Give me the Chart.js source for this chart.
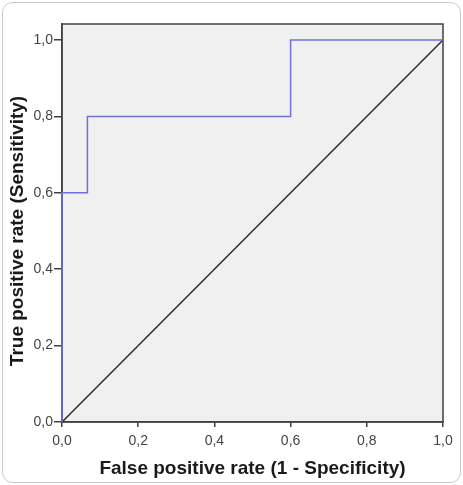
<!DOCTYPE html>
<html>
<head>
<meta charset="utf-8">
<script src="https://cdn.jsdelivr.net/npm/chart.js@4/dist/chart.umd.min.js"></script>
<style>
  html, body { margin: 0; padding: 0; background: #fff; }
  #wrap { width: 463px; height: 485px; }
</style>
</head>
<body>
<div id="wrap"><canvas id="roc" width="463" height="485"></canvas></div>
<script>
// ROC curve points (1 - specificity, sensitivity)
const fpr = [0, 0, 0.0667, 0.0667, 0.6, 0.6, 1];
const tpr = [0, 0.6, 0.6, 0.8, 0.8, 1, 1];
// reference line
const refX = [0, 1];
const refY = [0, 1];

const tickValues = [0, 0.2, 0.4, 0.6, 0.8, 1.0];
const tickLabels = ['0,0', '0,2', '0,4', '0,6', '0,8', '1,0'];

const xTitle = 'False positive rate (1 - Specificity)';
const yTitle = 'True positive rate (Sensitivity)';

const toPts = (xs, ys) => xs.map((x, i) => ({ x: x, y: ys[i] }));
const FONT = '"Liberation Sans", Arial, sans-serif';

// background, frame, outer rounded box and axis titles
const decor = {
  id: 'decor',
  beforeDraw(chart) {
    const { ctx, chartArea: a } = chart;
    ctx.save();
    ctx.strokeStyle = '#c8c8c8';
    ctx.lineWidth = 1;
    ctx.beginPath();
    ctx.roundRect(2.5, 2.5, chart.width - 5, chart.height - 5, 10);
    ctx.stroke();
    ctx.fillStyle = '#f0f0f0';
    ctx.fillRect(a.left, a.top, a.right - a.left, a.bottom - a.top);
    ctx.restore();
  },
  beforeDatasetsDraw(chart) {
    const { ctx, chartArea: a, scales } = chart;
    ctx.save();
    ctx.strokeStyle = '#404040';
    ctx.lineWidth = 1.5;
    ctx.strokeRect(a.left, a.top, a.right - a.left, a.bottom - a.top);

    ctx.fillStyle = '#1a1a1a';
    ctx.font = 'bold 19px ' + FONT;
    ctx.textAlign = 'center';
    ctx.textBaseline = 'middle';
    ctx.fillText(xTitle, (a.left + a.right) / 2, 469);

    const yMid = (scales.y.getPixelForValue(0) + scales.y.getPixelForValue(1)) / 2;
    ctx.translate(18, yMid);
    ctx.rotate(-Math.PI / 2);
    ctx.fillText(yTitle, 0, 0);
    ctx.restore();
  }
};

const tickCallback = (v) => {
  const i = tickValues.findIndex(t => Math.abs(t - v) < 1e-6);
  return i >= 0 ? tickLabels[i] : '';
};

new Chart(document.getElementById('roc'), {
  type: 'scatter',
  data: {
    datasets: [
      {
        label: 'ROC',
        data: toPts(fpr, tpr),
        showLine: true,
        borderColor: '#6f6fe0',
        borderWidth: 1.5,
        pointRadius: 0,
        fill: false,
        clip: false
      },
      {
        label: 'Reference',
        data: toPts(refX, refY),
        showLine: true,
        borderColor: '#2a2a2a',
        borderWidth: 1.5,
        pointRadius: 0,
        fill: false
      }
    ]
  },
  options: {
    responsive: false,
    animation: false,
    layout: { padding: { top: 24, right: 20, left: 0, bottom: 0 } },
    plugins: { legend: { display: false }, tooltip: { enabled: false } },
    scales: {
      x: {
        type: 'linear',
        min: 0,
        max: 1,
        afterBuildTicks: s => { s.ticks = tickValues.map(v => ({ value: v })); },
        afterFit: s => { s.height = 63; },
        grid: { drawOnChartArea: false, color: '#404040', lineWidth: 1.5, tickLength: 5 },
        border: { color: '#404040', width: 1.5 },
        ticks: { color: '#444', font: { family: FONT, size: 14 }, padding: 6, callback: tickCallback }
      },
      y: {
        type: 'linear',
        min: 0,
        max: 1.042,
        afterBuildTicks: s => { s.ticks = tickValues.map(v => ({ value: v })); },
        afterFit: s => { s.width = 62; },
        grid: { drawOnChartArea: false, color: '#404040', lineWidth: 1.5, tickLength: 8 },
        border: { color: '#404040', width: 1.5 },
        ticks: { color: '#444', font: { family: FONT, size: 14 }, padding: 1, callback: tickCallback }
      }
    }
  },
  plugins: [decor]
});
</script>
</body>
</html>
